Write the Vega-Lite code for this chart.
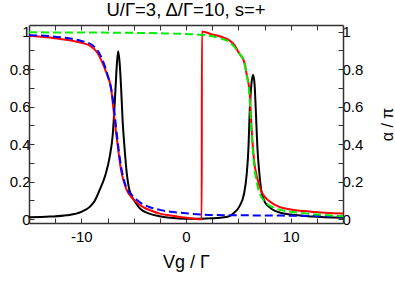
{
  "$schema": "https://vega.github.io/schema/vega-lite/v6.json",
  "width": 314,
  "height": 198,
  "autosize": "none",
  "padding": {"left": 29, "top": 25, "right": 52, "bottom": 61},
  "config": {
    "view": {"stroke": null},
    "font": "Liberation Sans",
    "axis": {
      "grid": false,
      "domainColor": "#333",
      "domainWidth": 1.5,
      "tickColor": "#333",
      "tickWidth": 1,
      "tickSize": -5,
      "labelColor": "#000",
      "titleColor": "#000",
      "labelFontSize": 15,
      "titleFontSize": 18,
      "titleFontWeight": "normal",
      "labelFont": "Liberation Sans",
      "titleFont": "Liberation Sans",
      "labelPadding": 4
    }
  },
  "title": {"text": "U/Γ=3, Δ/Γ=10, s=+", "fontSize": 18.5, "fontWeight": "normal", "font": "Liberation Sans", "color": "#000", "offset": 5},
  "datasets": {
    "curves": [
      {"s": "black", "x": -15, "y": 0.01}, {"s": "black", "x": -13, "y": 0.014}, {"s": "black", "x": -11.4, "y": 0.021},
      {"s": "black", "x": -10, "y": 0.039}, {"s": "black", "x": -9.2, "y": 0.066}, {"s": "black", "x": -8.7, "y": 0.1}, {"s": "black", "x": -8.26, "y": 0.155},
      {"s": "black", "x": -7.68, "y": 0.24}, {"s": "black", "x": -7.3, "y": 0.33}, {"s": "black", "x": -7.0, "y": 0.45}, {"s": "black", "x": -6.75, "y": 0.68},
      {"s": "black", "x": -6.6, "y": 0.83}, {"s": "black", "x": -6.48, "y": 0.895}, {"s": "black", "x": -6.35, "y": 0.84}, {"s": "black", "x": -6.2, "y": 0.7},
      {"s": "black", "x": -6.05, "y": 0.52}, {"s": "black", "x": -5.9, "y": 0.4}, {"s": "black", "x": -5.65, "y": 0.24}, {"s": "black", "x": -5.4, "y": 0.155},
      {"s": "black", "x": -4.76, "y": 0.084}, {"s": "black", "x": -4.4, "y": 0.057}, {"s": "black", "x": -3.5, "y": 0.03}, {"s": "black", "x": -2.54, "y": 0.016},
      {"s": "black", "x": -1.5, "y": 0.008}, {"s": "black", "x": -0.64, "y": 0.004}, {"s": "black", "x": 0.5, "y": 0.003}, {"s": "black", "x": 1.5, "y": 0.003},
      {"s": "black", "x": 2.5, "y": 0.005}, {"s": "black", "x": 3.3, "y": 0.008}, {"s": "black", "x": 4.13, "y": 0.016}, {"s": "black", "x": 4.6, "y": 0.035},
      {"s": "black", "x": 5.08, "y": 0.066}, {"s": "black", "x": 5.55, "y": 0.137}, {"s": "black", "x": 5.8, "y": 0.24}, {"s": "black", "x": 5.97, "y": 0.384},
      {"s": "black", "x": 6.09, "y": 0.58}, {"s": "black", "x": 6.25, "y": 0.72}, {"s": "black", "x": 6.41, "y": 0.768}, {"s": "black", "x": 6.55, "y": 0.72},
      {"s": "black", "x": 6.67, "y": 0.58}, {"s": "black", "x": 6.82, "y": 0.384}, {"s": "black", "x": 7.0, "y": 0.25}, {"s": "black", "x": 7.24, "y": 0.137},
      {"s": "black", "x": 7.55, "y": 0.09}, {"s": "black", "x": 7.93, "y": 0.066}, {"s": "black", "x": 8.5, "y": 0.045}, {"s": "black", "x": 9, "y": 0.035},
      {"s": "black", "x": 10, "y": 0.025}, {"s": "black", "x": 12, "y": 0.015}, {"s": "black", "x": 15, "y": 0.008},

      {"s": "red", "x": -15, "y": 0.978}, {"s": "red", "x": -13, "y": 0.968}, {"s": "red", "x": -12, "y": 0.96}, {"s": "red", "x": -11, "y": 0.952},
      {"s": "red", "x": -10, "y": 0.94}, {"s": "red", "x": -9.2, "y": 0.925}, {"s": "red", "x": -8.5, "y": 0.89}, {"s": "red", "x": -8.1, "y": 0.848},
      {"s": "red", "x": -7.6, "y": 0.78}, {"s": "red", "x": -7.14, "y": 0.69}, {"s": "red", "x": -6.9, "y": 0.57}, {"s": "red", "x": -6.7, "y": 0.47},
      {"s": "red", "x": -6.5, "y": 0.38}, {"s": "red", "x": -6.2, "y": 0.26}, {"s": "red", "x": -5.7, "y": 0.16}, {"s": "red", "x": -5, "y": 0.105},
      {"s": "red", "x": -4.13, "y": 0.066}, {"s": "red", "x": -3.3, "y": 0.045}, {"s": "red", "x": -2.5, "y": 0.03}, {"s": "red", "x": -1.5, "y": 0.02},
      {"s": "red", "x": -0.6, "y": 0.012}, {"s": "red", "x": 0.5, "y": 0.005}, {"s": "red", "x": 1.5, "y": 0.0}, {"s": "red", "x": 1.52, "y": 1.0},
      {"s": "red", "x": 2.5, "y": 0.985}, {"s": "red", "x": 3.5, "y": 0.97}, {"s": "red", "x": 4.1, "y": 0.955}, {"s": "red", "x": 4.6, "y": 0.93},
      {"s": "red", "x": 5.08, "y": 0.884}, {"s": "red", "x": 5.55, "y": 0.84}, {"s": "red", "x": 5.8, "y": 0.77}, {"s": "red", "x": 6.09, "y": 0.67},
      {"s": "red", "x": 6.25, "y": 0.5}, {"s": "red", "x": 6.5, "y": 0.315}, {"s": "red", "x": 6.8, "y": 0.22}, {"s": "red", "x": 7.3, "y": 0.137},
      {"s": "red", "x": 8, "y": 0.095}, {"s": "red", "x": 8.9, "y": 0.066}, {"s": "red", "x": 10, "y": 0.052}, {"s": "red", "x": 12, "y": 0.04},
      {"s": "red", "x": 15, "y": 0.03},

      {"s": "blue", "x": -15, "y": 0.981}, {"s": "blue", "x": -12, "y": 0.97}, {"s": "blue", "x": -10, "y": 0.95}, {"s": "blue", "x": -9, "y": 0.93},
      {"s": "blue", "x": -8.1, "y": 0.865}, {"s": "blue", "x": -7.5, "y": 0.77}, {"s": "blue", "x": -7.1, "y": 0.68}, {"s": "blue", "x": -6.8, "y": 0.55},
      {"s": "blue", "x": -6.5, "y": 0.4}, {"s": "blue", "x": -6.2, "y": 0.28}, {"s": "blue", "x": -5.7, "y": 0.17}, {"s": "blue", "x": -5, "y": 0.12},
      {"s": "blue", "x": -4.4, "y": 0.09}, {"s": "blue", "x": -3.5, "y": 0.065}, {"s": "blue", "x": -2.5, "y": 0.05}, {"s": "blue", "x": -1.5, "y": 0.04},
      {"s": "blue", "x": -0.6, "y": 0.035}, {"s": "blue", "x": 1.5, "y": 0.025}, {"s": "blue", "x": 3, "y": 0.022}, {"s": "blue", "x": 5, "y": 0.021},
      {"s": "blue", "x": 8, "y": 0.02}, {"s": "blue", "x": 11, "y": 0.018}, {"s": "blue", "x": 15, "y": 0.015},

      {"s": "green", "x": -15, "y": 0.996}, {"s": "green", "x": -10, "y": 0.995}, {"s": "green", "x": -5, "y": 0.993}, {"s": "green", "x": -2, "y": 0.99},
      {"s": "green", "x": 0, "y": 0.987}, {"s": "green", "x": 1.5, "y": 0.983}, {"s": "green", "x": 2.5, "y": 0.975}, {"s": "green", "x": 3.5, "y": 0.96},
      {"s": "green", "x": 4.1, "y": 0.946}, {"s": "green", "x": 4.6, "y": 0.92}, {"s": "green", "x": 5.08, "y": 0.884}, {"s": "green", "x": 5.55, "y": 0.84},
      {"s": "green", "x": 5.8, "y": 0.77}, {"s": "green", "x": 6.05, "y": 0.67}, {"s": "green", "x": 6.22, "y": 0.5}, {"s": "green", "x": 6.45, "y": 0.32},
      {"s": "green", "x": 6.75, "y": 0.2}, {"s": "green", "x": 7.05, "y": 0.137}, {"s": "green", "x": 7.6, "y": 0.09}, {"s": "green", "x": 8.2, "y": 0.066},
      {"s": "green", "x": 9, "y": 0.05}, {"s": "green", "x": 10, "y": 0.04}, {"s": "green", "x": 12, "y": 0.028}, {"s": "green", "x": 15, "y": 0.016}
    ]
  },
  "layer": [
    {
      "data": {"name": "curves"},
      "encoding": {
        "x": {
          "field": "x", "type": "quantitative",
          "scale": {"domain": [-15, 15], "nice": false, "zero": false},
          "axis": {
            "orient": "bottom",
            "values": [-12.5, -10, -7.5, -5, -2.5, 0, 2.5, 5, 7.5, 10, 12.5],
            "labelExpr": "datum.value % 10 === 0 ? toString(datum.value) : ''",
            "labelPadding": 11,
            "title": "Vg / Γ",
            "titlePadding": 9
          }
        },
        "y": {
          "field": "y", "type": "quantitative",
          "scale": {"domain": [-0.02, 1.035], "nice": false, "zero": false},
          "axis": {
            "orient": "left",
            "values": [0, 0.1, 0.2, 0.3, 0.4, 0.5, 0.6, 0.7, 0.8, 0.9, 1],
            "labelExpr": "round(datum.value * 10) % 2 === 0 ? toString(round(datum.value * 10) / 10) : ''",
            "title": null
          }
        }
      },
      "layer": [
        {"transform": [{"filter": "datum.s === 'black'"}], "mark": {"type": "line", "color": "#000000", "strokeWidth": 2, "interpolate": "monotone"}},
        {"transform": [{"filter": "datum.s === 'red'"}], "mark": {"type": "line", "color": "#ff0000", "strokeWidth": 2, "interpolate": "monotone"}},
        {"transform": [{"filter": "datum.s === 'blue'"}], "mark": {"type": "line", "color": "#0000ff", "strokeWidth": 2, "strokeDash": [8, 4], "interpolate": "monotone"}},
        {"transform": [{"filter": "datum.s === 'green'"}], "mark": {"type": "line", "color": "#00ee00", "strokeWidth": 2, "strokeDash": [8, 4], "interpolate": "monotone"}}
      ]
    },
    {
      "data": {"name": "curves"},
      "mark": {"type": "point", "opacity": 0},
      "encoding": {
        "x": {
          "field": "x", "type": "quantitative",
          "scale": {"domain": [-15, 15], "nice": false, "zero": false},
          "axis": {"orient": "top", "values": [-12.5, -10, -7.5, -5, -2.5, 0, 2.5, 5, 7.5, 10, 12.5], "labels": false, "title": null}
        },
        "y": {
          "field": "y", "type": "quantitative",
          "scale": {"domain": [-0.02, 1.035], "nice": false, "zero": false},
          "axis": {
            "orient": "right",
            "values": [0, 0.1, 0.2, 0.3, 0.4, 0.5, 0.6, 0.7, 0.8, 0.9, 1],
            "labelExpr": "round(datum.value * 10) % 2 === 0 ? toString(round(datum.value * 10) / 10) : ''",
            "title": "α / π",
            "titleAngle": 270,
            "titleFontSize": 16,
            "titlePadding": 33
          }
        }
      }
    }
  ],
  "resolve": {"scale": {"x": "independent", "y": "independent"}}
}
